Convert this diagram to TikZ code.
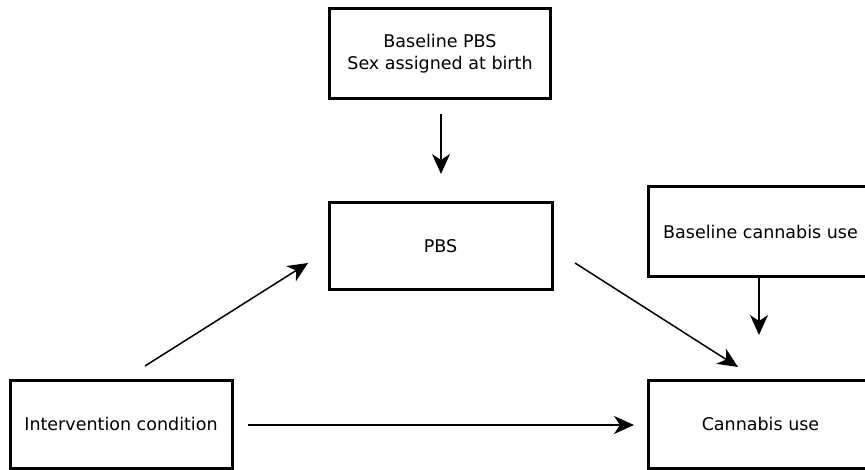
\documentclass[tikz,border=0pt]{standalone}
\usepackage{fontspec}
\setmainfont{DejaVu Sans}
\usetikzlibrary{arrows.meta}
\begin{document}
\begin{tikzpicture}[x=1pt,y=-1pt,
  box/.style={draw=black,line width=3pt,fill=white,inner sep=0pt,font=\fontsize{17.5}{22}\selectfont,align=center},
  arr/.style={line width=1.5pt,-{Stealth[length=20pt,width=18pt,inset=6pt]}}]
\clip (0,0) rectangle (865,470);
\useasboundingbox (0,0) rectangle (865,470);
\node[box,minimum width=221pt,minimum height=90pt] (top) at (440,54) {Baseline PBS\\Sex assigned at birth};
\node[box,minimum width=223pt,minimum height=87pt] (pbs) at (440.5,246.5) {PBS};
\node[box,minimum width=222pt,minimum height=88pt] (iv) at (121,424) {Intervention condition};
\node[box,minimum width=224pt,minimum height=90pt,anchor=west] (bcu) at (647,232) {Baseline cannabis use};
\node[box,minimum width=224pt,minimum height=88pt,anchor=west] (cu) at (647,424) {Cannabis use};
\coordinate (a1s) at (441,114);
\coordinate (a1e) at (441,174);
\coordinate (a2s) at (145,366);
\coordinate (a2e) at (308,263);
\coordinate (a3s) at (575,263);
\coordinate (a3e) at (738,367);
\coordinate (a4s) at (759,278);
\coordinate (a4e) at (759,335);
\coordinate (a5s) at (248,425);
\coordinate (a5e) at (634,425);
\draw[arr] (a1s) -- (a1e);
\draw[arr] (a2s) -- (a2e);
\draw[arr] (a3s) -- (a3e);
\draw[arr] (a4s) -- (a4e);
\draw[arr] (a5s) -- (a5e);
\end{tikzpicture}
\end{document}
